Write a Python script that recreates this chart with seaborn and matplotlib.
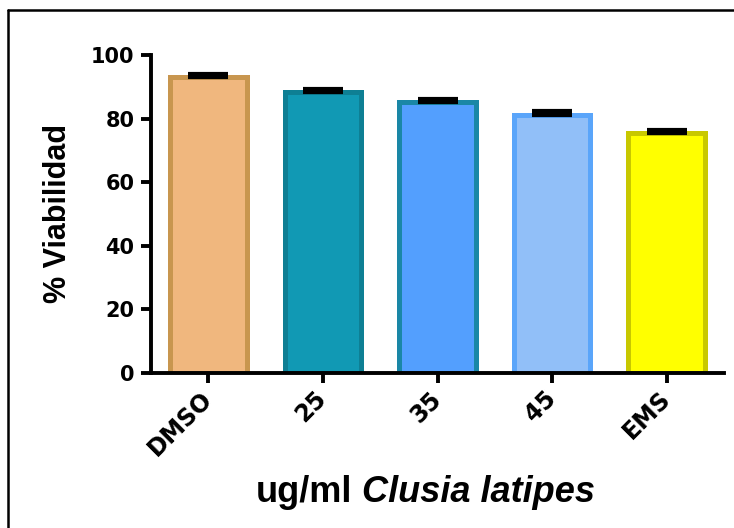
import matplotlib
matplotlib.use("Agg")
import matplotlib.pyplot as plt
from matplotlib.lines import Line2D
import seaborn as sns
import pandas as pd
import numpy as np

categories = ["DMSO", "25", "35", "45", "EMS"]
viability = [93.2, 88.4, 85.2, 81.2, 75.4]
sem = [0.7, 0.8, 0.9, 1.1, 0.9]
fill_colors = ["#F0B77E", "#1199B4", "#539FFE", "#91BFF8", "#FFFF00"]
edge_colors = ["#C8964F", "#0E7F94", "#1A87A6", "#5AA5FA", "#C8C800"]
y_ticks = [0, 20, 40, 60, 80, 100]

sns.set_style("white")
plt.rcParams["font.family"] = ["Liberation Sans", "DejaVu Sans"]
plt.rcParams["text.color"] = "black"
plt.rcParams["xtick.color"] = "black"
plt.rcParams["ytick.color"] = "black"

df = pd.DataFrame({"cat": categories, "val": viability})

fig = plt.figure(figsize=(7.34, 5.28), dpi=100)
ax = fig.add_axes([151/734, 1 - 373/528, (724 - 151)/734, (373 - 55)/528])

sns.barplot(data=df, x="cat", y="val", hue="cat", palette=fill_colors,
            saturation=1, width=0.67, legend=False, ax=ax, errorbar=None)
for patch, ec in zip(ax.patches, edge_colors):
    patch.set_edgecolor(ec)
    patch.set_linewidth(3.6)

xs = np.arange(len(categories))
ax.errorbar(xs, viability, yerr=[np.zeros(len(sem)), sem], fmt="none",
            ecolor="black", elinewidth=2, capsize=14.5, capthick=3.0, zorder=5)

ax.set_xlim(-0.5, 4.5)
ax.set_ylim(0, 100)
ax.set_yticks(y_ticks)
ax.set_yticklabels([str(t) for t in y_ticks], fontsize=15, fontweight="bold",
                   family="DejaVu Sans")
ax.set_xticks(xs)
ax.set_xticklabels(categories, fontsize=17, fontweight="bold", rotation=45,
                   ha="right", va="center", rotation_mode="anchor",
                   family="DejaVu Sans")
ax.set_xlabel("")
ax.set_ylabel("")

for side in ["top", "right"]:
    ax.spines[side].set_visible(False)
for side in ["left", "bottom"]:
    ax.spines[side].set_linewidth(2.8)
    ax.spines[side].set_color("black")
ax.tick_params(axis="y", direction="out", length=7, width=2.8, color="black",
               left=True, pad=5)
ax.tick_params(axis="x", direction="out", length=7, width=2.8, color="black",
               bottom=True, pad=9)

fig.text(57.5/734, 1 - 213/528, "% Viabilidad", rotation=90, ha="center", va="center",
         fontsize=22, fontweight="bold")
fig.text(352/734, 1 - 492/528, "ug/ml", ha="right", va="center",
         fontsize=26, fontweight="bold")
fig.text(362/734, 1 - 492/528, "Clusia latipes", ha="left", va="center",
         fontsize=26, fontweight="bold", style="italic")

fig.add_artist(Line2D([8/734, 8/734], [0, 1 - 10/528], transform=fig.transFigure,
                      color="black", linewidth=1.8))
fig.add_artist(Line2D([8/734, 1], [1 - 10/528, 1 - 10/528], transform=fig.transFigure,
                      color="black", linewidth=1.8))

fig.savefig("out.png", dpi=100)
